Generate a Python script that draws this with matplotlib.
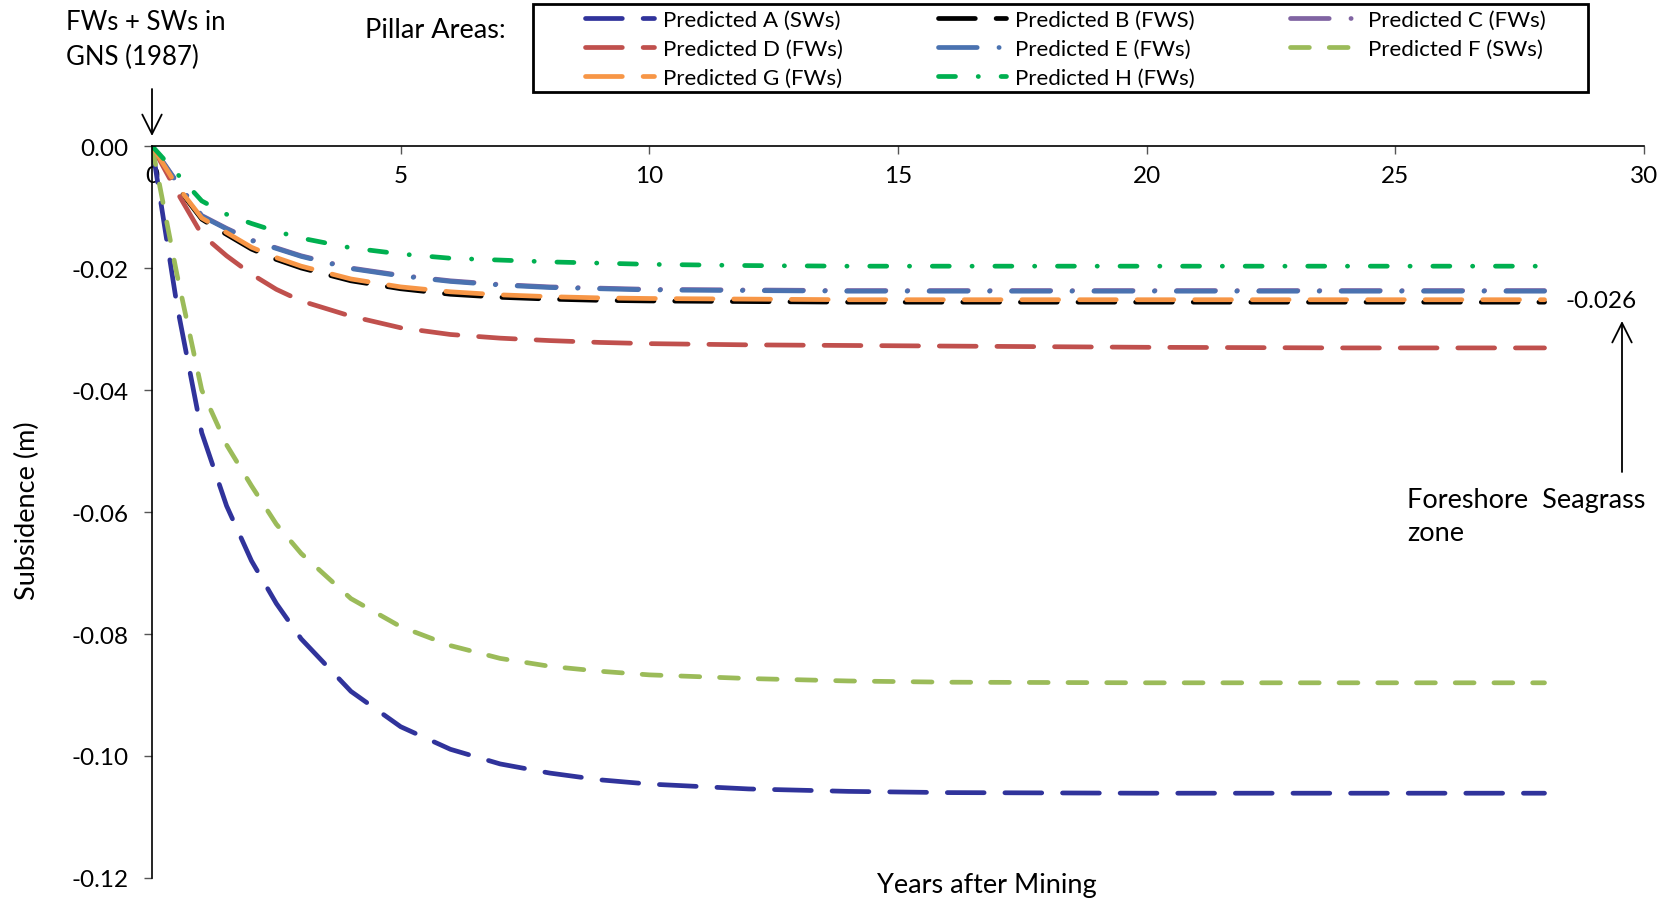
import numpy as np
import matplotlib
matplotlib.use("Agg")
import matplotlib.pyplot as plt
from matplotlib.patches import FancyArrowPatch, Rectangle
from matplotlib.ticker import FormatStrFormatter

plt.rcParams["font.family"] = ["Lato", "DejaVu Sans"]
plt.rcParams["axes.unicode_minus"] = False

# Years after mining at which subsidence is given
years = [0, 0.5, 1, 1.5, 2, 2.5, 3, 4, 5, 6, 7, 8, 9, 10, 12, 14, 16, 20, 24, 28]

# Predicted subsidence (m) for each pillar area
pred_a = [0, -0.026, -0.047, -0.059, -0.068, -0.075, -0.0808, -0.0894, -0.0952, -0.0989,
          -0.1013, -0.1028, -0.1039, -0.1046, -0.1054, -0.1058, -0.1060, -0.1061, -0.1061, -0.1061]
pred_b = [0, -0.0067, -0.0120, -0.0145, -0.0169, -0.0186, -0.0200, -0.0221, -0.0234, -0.0243,
          -0.0248, -0.0251, -0.0253, -0.0254, -0.0255, -0.0256, -0.0256, -0.0256, -0.0256, -0.0256]
pred_c = [0, -0.0059, -0.0114, -0.0135, -0.0154, -0.0167, -0.0180, -0.0200, -0.0212, -0.0221,
          -0.0227, -0.0231, -0.0233, -0.0235, -0.0236, -0.0237, -0.0237, -0.0237, -0.0237, -0.0237]
pred_d = [0, -0.0075, -0.0145, -0.0180, -0.0210, -0.0235, -0.0254, -0.0279, -0.0298, -0.0309,
          -0.0315, -0.0319, -0.0322, -0.0324, -0.0326, -0.0327, -0.0328, -0.0330, -0.0331, -0.0331]
pred_e = [0, -0.0060, -0.0115, -0.0136, -0.0155, -0.0168, -0.0181, -0.0201, -0.0213, -0.0222,
          -0.0228, -0.0232, -0.0234, -0.0236, -0.0237, -0.0238, -0.0238, -0.0238, -0.0238, -0.0238]
pred_f = [0, -0.021, -0.040, -0.049, -0.0557, -0.0620, -0.0668, -0.0742, -0.0788, -0.0819,
          -0.0840, -0.0853, -0.0861, -0.0867, -0.0873, -0.0877, -0.0879, -0.0880, -0.0880, -0.0880]
pred_g = [0, -0.0065, -0.0118, -0.0142, -0.0166, -0.0183, -0.0197, -0.0218, -0.0231, -0.0239,
          -0.0244, -0.0247, -0.0249, -0.0250, -0.0251, -0.0252, -0.0252, -0.0252, -0.0252, -0.0252]
pred_h = [0, -0.0045, -0.0090, -0.0112, -0.0127, -0.0140, -0.0151, -0.0167, -0.0177, -0.0184,
          -0.0187, -0.0190, -0.0192, -0.0194, -0.0196, -0.0197, -0.0197, -0.0197, -0.0197, -0.0197]

labels = ["Predicted A (SWs)", "Predicted B (FWS)", "Predicted C (FWs)", "Predicted D (FWs)",
          "Predicted E (FWs)", "Predicted F (SWs)", "Predicted G (FWs)", "Predicted H (FWs)"]

x_ticks = [0, 5, 10, 15, 20, 25, 30]
y_ticks = [-0.12, -0.10, -0.08, -0.06, -0.04, -0.02, 0.00]

LW = 3.4
long_dash = (7.8, 4.4)
short_dash = (4.0, 4.2)
dash_dot = (8.2, 4.6, 0.05, 4.6)
green_dash_dot = (3.6, 4.8, 0.05, 4.8)

styles = {
    "A": dict(color="#30339B", dashes=long_dash),
    "B": dict(color="#000000", dashes=long_dash),
    "C": dict(color="#8064A2", dashes=dash_dot),
    "D": dict(color="#C0504D", dashes=long_dash),
    "E": dict(color="#4A72B0", dashes=dash_dot),
    "F": dict(color="#9BBB59", dashes=short_dash),
    "G": dict(color="#F79646", dashes=long_dash),
    "H": dict(color="#00B050", dashes=green_dash_dot),
}

W, H = 1668, 903
fig = plt.figure(figsize=(W / 100, H / 100), dpi=100)
ax = fig.add_axes([152 / W, 24 / H, (1644 - 152) / W, (879 - 147) / H])

series = [("A", pred_a), ("B", pred_b), ("C", pred_c), ("D", pred_d),
          ("E", pred_e), ("F", pred_f), ("G", pred_g), ("H", pred_h)]
handles = {}
for (key, vals), lab in zip(series, labels):
    st = styles[key]
    (ln,) = ax.plot(years, vals, color=st["color"], lw=LW, dashes=st["dashes"],
                    dash_capstyle="round", solid_capstyle="round", label=lab)
    handles[key] = ln

ax.set_xlim(0, 30)
ax.set_ylim(-0.12, 0)
ax.set_xticks(x_ticks)
ax.set_yticks(y_ticks)
ax.yaxis.set_major_formatter(FormatStrFormatter("%.2f"))

ax.spines["bottom"].set_position(("data", 0))
ax.spines["top"].set_visible(False)
ax.spines["right"].set_visible(False)
for sp in ("bottom", "left"):
    ax.spines[sp].set_linewidth(1.2)
    ax.spines[sp].set_color("black")
ax.tick_params(axis="x", direction="out", length=6, width=1, color="#555555",
               labelsize=17.5, pad=8)
ax.tick_params(axis="y", direction="out", length=6, width=1, color="#555555",
               labelsize=17.5, pad=11)
ax.patch.set_visible(False)

# Legend, filled row by row, inside a separately drawn box
order = ["A", "D", "G", "B", "E", "H", "C", "F"]
leg = fig.legend([handles[k] for k in order], [handles[k].get_label() for k in order],
                 ncol=3, loc="upper left", bbox_to_anchor=(585 / W, 1 - 11 / H),
                 fontsize=16, frameon=False, handlelength=3.1, handletextpad=0.4,
                 columnspacing=4.27, labelspacing=0.41, borderpad=0, borderaxespad=0)
fig.add_artist(Rectangle((533 / W, 1 - 93 / H), (1588 - 533) / W, 88 / H,
                         transform=fig.transFigure, fill=False, edgecolor="black", lw=2))

fig.text(365 / W, 1 - 30 / H, "Pillar Areas:", fontsize=19.5, ha="left", va="center")
fig.text(66 / W, 1 - 40 / H, "FWs + SWs in\nGNS (1987)", fontsize=18.5, ha="left",
         va="center", linespacing=1.45)

arrow_kw = dict(arrowstyle="->,head_length=0.7,head_width=0.35", lw=1.3, color="black",
                shrinkA=0, shrinkB=0, mutation_scale=20)
fig.add_artist(FancyArrowPatch((152, H - 90), (152, H - 137), transform=None, **arrow_kw))
fig.add_artist(FancyArrowPatch((1622, H - 473), (1622, H - 322), transform=None, **arrow_kw))

fig.text(1601 / W, 1 - 302 / H, "-0.026", fontsize=17.5, ha="center", va="center")
fig.text(1407 / W, 1 - 517 / H, "Foreshore  Seagrass\nzone", fontsize=19.5, ha="left",
         va="center", linespacing=1.4)

fig.text(27 / W, 1 - 511 / H, "Subsidence (m)", fontsize=19.5, rotation=90,
         ha="center", va="center")
fig.text(987 / W, 1 - 886 / H, "Years after Mining", fontsize=19.5, ha="center", va="center")

fig.savefig("out.png", dpi=100)
